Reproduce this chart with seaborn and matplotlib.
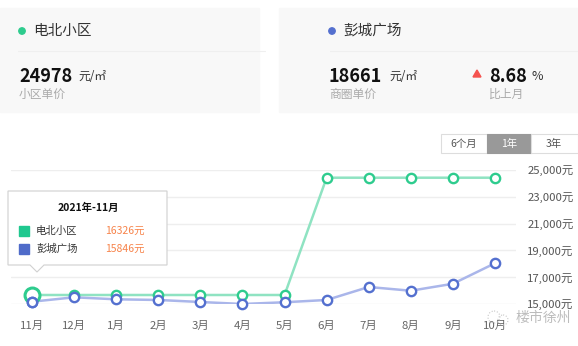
import matplotlib
matplotlib.use("Agg")
import matplotlib.pyplot as plt
from matplotlib.patches import Rectangle, Polygon, Circle
import pandas as pd
import seaborn as sns

# datos
meses = ["11月", "12月", "1月", "2月", "3月", "4月", "5月", "6月", "7月", "8月", "9月", "10月"]
dianbei = [15672, 15672, 15672, 15672, 15672, 15672, 15672, 24425, 24425, 24425, 24425, 24425]
pengcheng = [15172, 15500, 15350, 15300, 15150, 15000, 15130, 15300, 16270, 15990, 16510, 18040]
y_ticks = [15000, 17000, 19000, 21000, 23000, 25000]

df = pd.DataFrame({"x": range(len(meses)), "电北小区": dianbei, "彭城广场": pengcheng})

sns.set_style("white")
plt.rcParams["font.family"] = ["Noto Sans CJK SC", "DejaVu Sans"]

W, H = 578, 346
fig = plt.figure(figsize=(W / 100, H / 100), dpi=100)

VERDE, VERDE_L = "#2ecc8e", "#8fe3c2"
AZUL, AZUL_L = "#5470cf", "#aab6ea"
GRIS = "#666666"

# ---- grafico principal ----
ax = fig.add_axes([11 / W, 1 - 304 / H, (516 - 11) / W, (304 - 170) / H])
sns.lineplot(data=df, x="x", y="电北小区", color=VERDE_L, lw=1.8, ax=ax, zorder=2)
sns.lineplot(data=df, x="x", y="彭城广场", color=AZUL_L, lw=1.8, ax=ax, zorder=2)
sns.scatterplot(data=df, x="x", y="电北小区", s=45, facecolor="white", edgecolor=VERDE,
                linewidth=1.7, ax=ax, zorder=3, clip_on=False)
sns.scatterplot(data=df, x="x", y="彭城广场", s=45, facecolor="white", edgecolor=AZUL,
                linewidth=1.7, ax=ax, zorder=4, clip_on=False)
# punto resaltado (hover)
ax.scatter([0], [dianbei[0]], s=115, facecolor="white", edgecolor=VERDE, linewidth=2.2,
           zorder=3, clip_on=False)
ax.scatter([0], [pengcheng[0]], s=45, facecolor="white", edgecolor=AZUL, linewidth=1.7,
           zorder=4, clip_on=False)

ax.set_xlim(-0.5, len(meses) - 0.5)
ax.set_ylim(15000, 25000)
ax.set_xticks(range(len(meses)))
ax.set_xticklabels(meses)
ax.yaxis.tick_right()
ax.set_yticks(y_ticks)
ax.set_yticklabels([f"{v:,}元" for v in y_ticks])
ax.tick_params(axis="x", length=0, pad=12, labelsize=8.2, labelcolor=GRIS)
ax.tick_params(axis="y", length=0, pad=8, labelsize=8.2, labelcolor="#555555")
ax.grid(axis="y", color="#eeeeee", lw=1)
ax.set_xlabel("")
ax.set_ylabel("")
for s in ax.spines.values():
    s.set_visible(False)

# ---- capa de superposicion en pixeles ----
ov = fig.add_axes([0, 0, 1, 1], zorder=10)
ov.set_xlim(0, W)
ov.set_ylim(H, 0)
ov.axis("off")
ov.patch.set_alpha(0)

# tarjetas superiores
ov.add_patch(Rectangle((0, 8), 259, 104, color="#f8f8f8", zorder=0))
ov.add_patch(Rectangle((279, 8), 299, 104, color="#f8f8f8", zorder=0))
ov.plot([18, 265], [51, 51], color="#efefef", lw=0.8)
ov.plot([330, 578], [51, 51], color="#efefef", lw=0.8)

ov.add_patch(Circle((22, 31), 3.2, color=VERDE))
ov.text(33, 31, "电北小区", fontsize=10.5, color="#333333", va="center")
ov.text(19, 76, "24978", fontsize=13, fontweight="bold", color="#111111", va="center")
ov.text(78, 77, "元/㎡", fontsize=8.5, color="#333333", va="center")
ov.text(19, 94, "小区单价", fontsize=8.5, color="#aaaaaa", va="center")

ov.add_patch(Circle((332, 31), 3.2, color=AZUL))
ov.text(343, 31, "彭城广场", fontsize=10.5, color="#333333", va="center")
ov.text(329, 76, "18661", fontsize=13, fontweight="bold", color="#111111", va="center")
ov.text(389, 77, "元/㎡", fontsize=8.5, color="#333333", va="center")
ov.text(329, 94, "商圈单价", fontsize=8.5, color="#aaaaaa", va="center")
ov.add_patch(Polygon([[473, 77], [481, 77], [477, 70]], color="#f5534f"))
ov.text(489, 76, "8.68", fontsize=13, fontweight="bold", color="#111111", va="center")
ov.text(532, 77, "%", fontsize=9, color="#333333", va="center")
ov.text(489, 94, "比上月", fontsize=8.5, color="#aaaaaa", va="center")

# botones de periodo
ov.add_patch(Rectangle((441, 134), 46, 19, facecolor="white", edgecolor="#dddddd", lw=0.8))
ov.add_patch(Rectangle((487, 134), 44, 19, facecolor="#999999", edgecolor="#999999", lw=0.8))
ov.add_patch(Rectangle((531, 134), 47, 19, facecolor="white", edgecolor="#dddddd", lw=0.8))
ov.text(464, 143.5, "6个月", fontsize=7.5, color="#555555", ha="center", va="center")
ov.text(509, 143.5, "1年", fontsize=7.5, color="white", ha="center", va="center")
ov.text(554, 143.5, "3年", fontsize=7.5, color="#555555", ha="center", va="center")

# tooltip
ov.add_patch(Polygon([[8, 191], [167, 191], [167, 265], [44, 265], [37, 272], [30, 265], [8, 265]],
                     closed=True, facecolor="white", edgecolor="#d0d0d0", lw=0.8, zorder=5))
ov.text(88, 208, "2021年-11月", fontsize=7.5, fontweight="bold", color="#111111",
        ha="center", va="center", zorder=6)
ov.add_patch(Rectangle((19, 226), 10, 10, color="#1fc88f", zorder=6))
ov.add_patch(Rectangle((19, 244), 10, 10, color="#4f6bc9", zorder=6))
ov.text(36, 231, "电北小区", fontsize=7.5, color="#333333", va="center", zorder=6)
ov.text(36, 249, "彭城广场", fontsize=7.5, color="#333333", va="center", zorder=6)
ov.text(105, 231, "16326元", fontsize=7.5, color="#f7834a", va="center", zorder=6)
ov.text(105, 249, "15846元", fontsize=7.5, color="#f7834a", va="center", zorder=6)

# marca de agua
ov.add_patch(Circle((494, 317), 6, facecolor="none", edgecolor="#c8c8c8", lw=0.8, ls=":"))
ov.add_patch(Circle((503, 320), 5, facecolor="none", edgecolor="#c8c8c8", lw=0.8, ls=":"))
ov.text(516, 318, "楼市徐州", fontsize=10, color="#b5b5b5", va="center", alpha=0.9)

fig.savefig("out.png", dpi=100)
